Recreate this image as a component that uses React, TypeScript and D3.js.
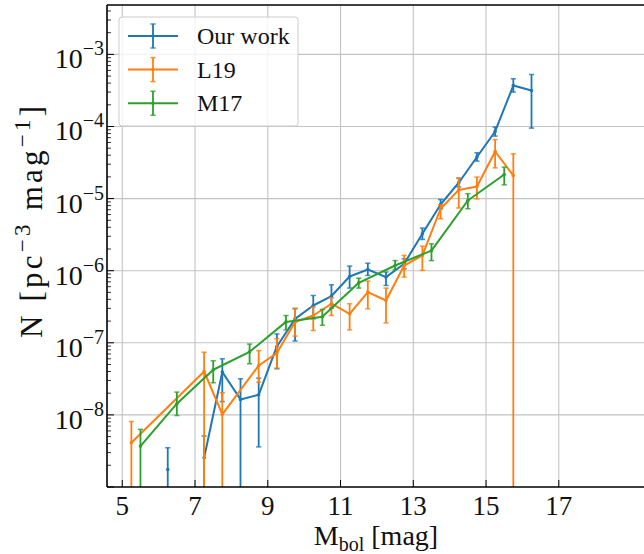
import React from "react";
import * as d3 from "d3";

// ---------------- data ----------------
const ourMag = [6.25, 6.75, 7.25, 7.75, 8.25, 8.75, 9.25, 9.75, 10.25, 10.75, 11.25, 11.75, 12.25, 12.75, 13.25, 13.75, 14.25, 14.75, 15.25, 15.75, 16.25];
const ourN = [1.75e-9, null, 2.54e-9, 3.93e-8, 1.64e-8, 1.9e-8, 8.9e-8, 2.15e-7, 3.29e-7, 4.45e-7, 8.3e-7, 1.04e-6, 8.15e-7, 1.25e-6, 3.25e-6, 8.28e-6, 1.66e-5, 3.77e-5, 8.53e-5, 3.7e-4, 3.16e-4];
const ourLo = [null, null, null, 1.53e-8, null, 3.6e-9, 4.36e-8, 1.06e-7, 2.15e-7, 3.03e-7, 5.74e-7, 8.6e-7, 6.24e-7, 1.06e-6, 2.71e-6, 7.23e-6, 1.45e-5, 3.31e-5, 7.36e-5, 3.0e-4, 9.5e-5];
const ourHi = [3.5e-9, null, 5.1e-9, 6.0e-8, 3.17e-8, 3.24e-8, 1.33e-7, 2.96e-7, 4.53e-7, 6.37e-7, 1.16e-6, 1.27e-6, 9.6e-7, 1.46e-6, 3.9e-6, 9.72e-6, 1.92e-5, 4.32e-5, 9.82e-5, 4.59e-4, 5.26e-4];

const l19Mag = [5.25, 7.25, 7.75, 8.75, 9.25, 9.75, 10.25, 10.75, 11.25, 11.75, 12.25, 12.75, 13.25, 13.75, 14.25, 14.75, 15.25, 15.75];
const l19N = [4.1e-9, 4.0e-8, 1.02e-8, 4.84e-8, 7.2e-8, 1.94e-7, 2.39e-7, 3.48e-7, 2.52e-7, 5.05e-7, 3.86e-7, 1.18e-6, 1.63e-6, 7.23e-6, 1.32e-5, 1.47e-5, 4.5e-5, 2.09e-5];
const l19Lo = [null, null, null, 2.83e-8, 4.46e-8, 1.24e-7, 1.48e-7, 2.39e-7, 1.51e-7, 2.96e-7, 1.89e-7, 8.15e-7, 1.01e-6, 5.25e-6, 7.4e-6, 9.9e-6, 2.67e-5, null];
const l19Hi = [8.1e-9, 7.4e-8, 2.03e-8, 7.8e-8, 1.14e-7, 3.03e-7, 3.13e-7, 4.21e-7, 3.48e-7, 7.18e-7, 5.74e-7, 1.63e-6, 2.19e-6, 8.2e-6, 1.92e-5, 1.99e-5, 6.6e-5, 4.18e-5];

const m17Mag = [5.5, 6.5, 7.5, 8.5, 9.5, 10.5, 11.5, 12.5, 13.5, 14.5, 15.5];
const m17N = [3.69e-9, 1.43e-8, 4.23e-8, 7.5e-8, 1.95e-7, 2.3e-7, 6.79e-7, 1.18e-6, 1.9e-6, 9.42e-6, 2.16e-5];
const m17Lo = [null, 9.8e-9, 2.79e-8, 5.12e-8, 1.51e-7, 1.75e-7, 5.74e-7, 1.04e-6, 1.38e-6, 7.23e-6, 1.55e-5];
const m17Hi = [6.3e-9, 2.07e-8, 5.63e-8, 9.6e-8, 2.39e-7, 2.9e-7, 7.89e-7, 1.38e-6, 2.36e-6, 1.17e-5, 2.73e-5];

const seriesNames = ["Our work", "L19", "M17"];
const seriesColors = ["#1f77b4", "#ff7f0e", "#2ca02c"];

const xTicks = [5, 7, 9, 11, 13, 15, 17];
const yTickExps = [-3, -4, -5, -6, -7, -8];

// ---------------- layout ----------------
const W = 644, H = 554;
const L = 107, R = 645, T = 5, B = 487;
const FONT = "'Liberation Serif', 'DejaVu Serif', serif";

type Pt = { m: number; n: number | null; lo: number | null; hi: number | null };

function build(mag: number[], n: (number | null)[], lo: (number | null)[], hi: (number | null)[]): Pt[] {
  return mag.map((m, i) => ({ m, n: n[i], lo: lo[i], hi: hi[i] }));
}

const series = [
  build(ourMag, ourN, ourLo, ourHi),
  build(l19Mag, l19N, l19Lo, l19Hi),
  build(m17Mag, m17N, m17Lo, m17Hi),
];

export default function App() {
  const x = d3.scaleLinear().domain([4.58, 19.37]).range([L, R]);
  const y = d3.scaleLog().domain([1e-9, Math.pow(10, -2.315)]).range([B, T]);

  const line = d3
    .line<Pt>()
    .defined((d) => d.n != null)
    .x((d) => x(d.m))
    .y((d) => y(d.n as number));

  const minorTicks: number[] = [];
  for (let e = -9; e <= -3; e++) {
    for (let k = 2; k <= 9; k++) {
      const v = k * Math.pow(10, e);
      if (v > 1e-9 && v < Math.pow(10, -2.315)) minorTicks.push(v);
    }
  }
  const majorY = [-9, -8, -7, -6, -5, -4, -3].map((e) => Math.pow(10, e));

  const cap = 2.6;

  return (
    <svg
      width={W}
      height={H}
      style={{ position: "absolute", left: 0, top: 0, display: "block", background: "#fff" }}
      fontFamily={FONT}
    >
      <defs>
        <clipPath id="plot">
          <rect x={L} y={T} width={R - L} height={B - T} />
        </clipPath>
      </defs>
      <rect x={0} y={0} width={W} height={H} fill="#fff" />

      {/* grid */}
      <g stroke="#b0b0b0" strokeWidth={1.1} opacity={0.75}>
        {xTicks.map((t) => (
          <line key={"gx" + t} x1={x(t)} x2={x(t)} y1={T} y2={B} />
        ))}
        {yTickExps.map((e) => (
          <line key={"gy" + e} x1={L} x2={R} y1={y(Math.pow(10, e))} y2={y(Math.pow(10, e))} />
        ))}
      </g>

      {/* series */}
      <g clipPath="url(#plot)">
        {series.map((s, si) => (
          <g key={"s" + si}>
            <path d={line(s) || ""} fill="none" stroke={seriesColors[si]} strokeWidth={2} strokeLinejoin="round" />
            {s
              .filter((d) => d.n != null)
              .map((d, i) => {
                const cx = x(d.m);
                const yTop = d.hi != null ? y(d.hi) : y(d.n as number);
                const yBot = d.lo != null ? y(d.lo) : B + 10;
                return (
                  <g key={"e" + i} stroke={seriesColors[si]}>
                    <line x1={cx} x2={cx} y1={yTop} y2={yBot} strokeWidth={1.8} />
                    <line x1={cx - cap} x2={cx + cap} y1={yTop} y2={yTop} strokeWidth={1.5} opacity={0.8} />
                    {d.lo != null && (
                      <line x1={cx - cap} x2={cx + cap} y1={yBot} y2={yBot} strokeWidth={1.5} opacity={0.8} />
                    )}
                    <circle cx={cx} cy={y(d.n as number)} r={1.8} fill={seriesColors[si]} stroke="none" />
                  </g>
                );
              })}
          </g>
        ))}
      </g>

      {/* legend */}
      <g>
        <rect x={119} y={17} width={179} height={109} rx={3} fill="#fff" fillOpacity={0.8} stroke="#cccccc" strokeWidth={1} />
        {seriesNames.map((name, i) => {
          const ly = 36 + i * 33.6;
          const c = seriesColors[i];
          return (
            <g key={"lg" + i}>
              <line x1={128} x2={178} y1={ly} y2={ly} stroke={c} strokeWidth={2} />
              <line x1={153} x2={153} y1={ly - 12} y2={ly + 12} stroke={c} strokeWidth={1.8} />
              <line x1={153 - cap} x2={153 + cap} y1={ly - 12} y2={ly - 12} stroke={c} strokeWidth={1.5} opacity={0.8} />
              <line x1={153 - cap} x2={153 + cap} y1={ly + 12} y2={ly + 12} stroke={c} strokeWidth={1.5} opacity={0.8} />
              <circle cx={153} cy={ly} r={1.8} fill={c} />
              <text x={197} y={ly + 8} fontSize={24} fill="#111">
                {name}
              </text>
            </g>
          );
        })}
      </g>

      {/* spines */}
      <g stroke="#000" strokeWidth={1.6} fill="none">
        <line x1={L} x2={L} y1={T} y2={B} />
        <line x1={L} x2={R} y1={B} y2={B} />
        <line x1={L} x2={R} y1={T} y2={T} />
        <line x1={R} x2={R} y1={T} y2={B} />
      </g>

      {/* ticks */}
      <g stroke="#000" strokeWidth={1}>
        {xTicks.map((t) => (
          <line key={"tx" + t} x1={x(t)} x2={x(t)} y1={B} y2={B - 7} />
        ))}
        {majorY.map((v, i) => (
          <line key={"ty" + i} x1={L} x2={L + 7} y1={y(v)} y2={y(v)} />
        ))}
        {minorTicks.map((v, i) => (
          <line key={"tm" + i} x1={L} x2={L + 4} y1={y(v)} y2={y(v)} strokeWidth={0.8} />
        ))}
      </g>

      {/* tick labels */}
      <g fill="#111">
        {xTicks.map((t) => (
          <text key={"lx" + t} x={x(t)} y={B + 28} textAnchor="middle" fontSize={27}>
            {t}
          </text>
        ))}
        {yTickExps.map((e) => (
          <text key={"ly" + e} x={104} y={y(Math.pow(10, e)) + 14} textAnchor="end" fontSize={28}>
            10
            <tspan dy={-13} fontSize={20}>
              {"\u2212" + Math.abs(e)}
            </tspan>
          </text>
        ))}
      </g>

      {/* axis labels */}
      <text x={376} y={545} textAnchor="middle" fontSize={28} fill="#111">
        M
        <tspan dy={6} fontSize={20}>bol</tspan>
        <tspan dy={-6}> [mag]</tspan>
      </text>
      <text
        transform={`translate(42, 222) rotate(-90)`}
        textAnchor="middle"
        fontSize={31}
        fill="#111"
        textLength={232}
        lengthAdjust="spacing"
      >
        N [pc
        <tspan dy={-12} fontSize={23}>{"\u22123"}</tspan>
        <tspan dy={12}> mag</tspan>
        <tspan dy={-12} fontSize={23}>{"\u22121"}</tspan>
        <tspan dy={12}>]</tspan>
      </text>
    </svg>
  );
}
